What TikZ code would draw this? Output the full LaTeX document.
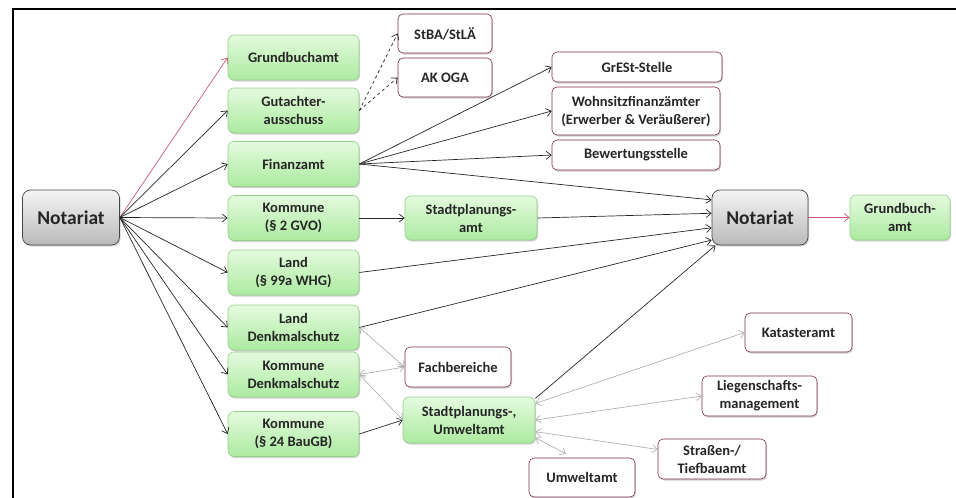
\documentclass[tikz,border=0pt]{standalone}
\usepackage{fontspec}
\setmainfont{Carlito}
\usetikzlibrary{arrows.meta,shadows}
\definecolor{gtop}{RGB}{228,251,222}
\definecolor{gbot}{RGB}{172,234,160}
\definecolor{gdraw}{RGB}{150,208,140}
\definecolor{wdraw}{RGB}{125,45,80}
\definecolor{ntop}{RGB}{245,245,245}
\definecolor{nbot}{RGB}{185,185,185}
\definecolor{ndraw}{RGB}{70,70,70}
\definecolor{redl}{RGB}{200,90,120}
\definecolor{grayl}{RGB}{178,178,178}
\definecolor{txt}{RGB}{38,38,38}
\begin{document}
\begin{tikzpicture}[x=1pt,y=-1pt,
  every node/.style={font=\bfseries\fontsize{14.5}{18}\selectfont, text=txt, align=center, inner sep=0pt},
  shad/.style={drop shadow={shadow xshift=1pt,shadow yshift=-1.5pt,fill=black,opacity=0.18}},
  gbox/.style={shad, rounded corners=6pt, draw=gdraw, line width=0.6pt, top color=gtop, bottom color=gbot, minimum width=131pt, minimum height=45pt},
  wbox/.style={shad, rounded corners=5pt, draw=wdraw, line width=0.6pt, fill=white, minimum height=39pt},
  nbox/.style={shad, rounded corners=8pt, draw=ndraw, line width=0.7pt, top color=ntop, bottom color=nbot, minimum width=97pt, minimum height=55pt, font=\bfseries\fontsize{19.5}{22}\selectfont},
  tip/.tip={Straight Barb[length=5pt,width=8pt]},
  arr/.style={-tip, line width=0.7pt, draw=black!85},
  redarr/.style={-tip, line width=0.7pt, draw=redl},
  dasharr/.style={-tip, line width=0.7pt, draw=black!85, dashed},
  grarr/.style={tip-tip, line width=0.7pt, draw=grayl}
]
\useasboundingbox (0,0) rectangle (956,498);
\draw[line width=2pt] (13,498) -- (13,9) -- (956,9);

% left Notariat
\node[nbox] (notL) at (71,217.5) {Notariat};

% green column
\node[gbox] (gba)  at (293.5,57.5)  {Grundbuchamt};
\node[gbox] (gut)  at (293.5,110.5) {Gutachter-\\ausschuss};
\node[gbox] (fin)  at (293.5,164)   {Finanzamt};
\node[gbox] (kgvo) at (293.5,218)   {Kommune\\(§ 2 GVO)};
\node[gbox] (lwhg) at (293.5,272.5) {Land\\(§ 99a WHG)};
\node[gbox] (lden) at (293.5,327.5) {Land\\Denkmalschutz};
\node[gbox] (kden) at (293.5,374.5) {Kommune\\Denkmalschutz};
\node[gbox] (kbau) at (293.5,434)   {Kommune\\(§ 24 BauGB)};

% white boxes top
\node[wbox, minimum width=94pt] (stba)  at (445,33.5) {StBA/StLÄ};
\node[wbox, minimum width=94pt] (akoga) at (445,77.5) {AK OGA};
\node[wbox, minimum width=170pt, minimum height=30pt] (grest) at (637,67) {GrESt-Stelle};
\node[wbox, minimum width=168pt, minimum height=48pt] (wohn) at (636,111) {Wohnsitzfinanzämter\\(Erwerber \& Veräußerer)};
\node[wbox, minimum width=168pt, minimum height=30pt] (bew) at (636,155) {Bewertungsstelle};

% middle
\node[gbox, minimum width=132pt, minimum height=44pt] (spa) at (471,218) {Stadtplanungs-\\amt};
\node[nbox, minimum width=96pt] (notR) at (760,217.5) {Notariat};
\node[gbox, minimum width=100pt, minimum height=45pt] (gbR) at (900,217.5) {Grundbuch-\\amt};

% lower
\node[wbox, minimum width=106pt, minimum height=40pt] (fach) at (458,367) {Fachbereiche};
\node[gbox, minimum width=132pt, minimum height=46pt] (spu) at (469,420) {Stadtplanungs-,\\Umweltamt};
\node[wbox, minimum width=106pt] (umw) at (582,477.5) {Umweltamt};
\node[wbox, minimum width=107pt] (kat) at (798.5,332.5) {Katasteramt};
\node[wbox, minimum width=115pt, minimum height=40pt] (lieg) at (759.5,396) {Liegenschafts-\\management};
\node[wbox, minimum width=108pt, minimum height=40pt] (str) at (712,459) {Straßen-/\\Tiefbauamt};

% connectors from left Notariat
\draw[redarr] (notL.east) -- (gba.west);
\foreach \t in {gut,fin,kgvo,lwhg,lden,kden,kbau}
  \draw[arr] (notL.east) -- (\t.west);

% Gutachterausschuss
\draw[dasharr] (gut.east) -- (stba.west);
\draw[dasharr] (gut.east) -- (akoga.west);

% Finanzamt
\draw[arr] (fin.east) -- (grest.west);
\draw[arr] (fin.east) -- (wohn.west);
\draw[arr] (fin.east) -- (bew.west);
\draw[arr] (fin.east) -- (notR.160);

% to right Notariat
\draw[arr] (kgvo.east) -- (spa.west);
\draw[arr] (spa.east) -- (notR.175);
\draw[arr] (lwhg.east) -- (notR.192);
\draw[arr] (lden.east) -- (notR.205);
\draw[arr] (spu.18) -- (notR.212);
\draw[redarr] (notR.east) -- (gbR.west);

% lower connectors
\draw[arr] (kbau.east) -- (spu.west);
\draw[grarr] (lden.east) -- (fach.west);
\draw[grarr] (kden.east) -- (fach.west);
\draw[grarr] (kden.east) -- (spu.west);
\draw[grarr] (spu.14) -- (kat.west);
\draw[grarr] (spu.east) -- (lieg.west);
\draw[grarr] (spu.-10) -- (str.170);
\draw[grarr] (spu.-15) -- ([shift={(-16,-4)}]umw.north);
\end{tikzpicture}
\end{document}
